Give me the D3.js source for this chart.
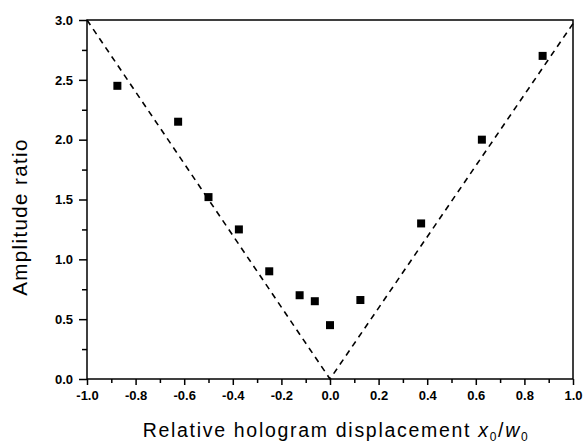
<!DOCTYPE html>
<html>
<head>
<meta charset="utf-8">
<script src="https://cdn.jsdelivr.net/npm/d3@7"></script>
<style>
  body { margin: 0; background: #fff; }
  svg text { font-family: "Liberation Sans", Arial, sans-serif; }
</style>
</head>
<body>
<div id="chart"></div>
<script>
// measured points
const displacement = [-0.875, -0.625, -0.5, -0.375, -0.25, -0.125, -0.0625, 0, 0.125, 0.375, 0.625, 0.875];
const amplitude = [2.45, 2.15, 1.52, 1.25, 0.90, 0.70, 0.65, 0.45, 0.66, 1.30, 2.00, 2.70];

// theory (dashed V)
const theoryX = [-1, 0, 1];
const theoryY = [3, 0, 2.97];

const xTicks = [-1.0, -0.8, -0.6, -0.4, -0.2, 0.0, 0.2, 0.4, 0.6, 0.8, 1.0];
const yTicks = [0.0, 0.5, 1.0, 1.5, 2.0, 2.5, 3.0];

const width = 584, height = 443;
const margin = { top: 20, left: 87, bottom: 64, right: 11 };
const innerW = width - margin.left - margin.right,
      innerH = height - margin.top - margin.bottom;

// plain hyphen instead of d3's unicode minus
const fmt = d => d.toFixed(1);

const svg = d3.select("#chart").append("svg")
  .attr("width", width)
  .attr("height", height);

const g = svg.append("g")
  .attr("transform", `translate(${margin.left}, ${margin.top})`);

const xScale = d3.scaleLinear().domain([-1, 1]).range([0, innerW]);
const yScale = d3.scaleLinear().domain([0, 3]).range([innerH, 0]);

// minor ticks
const xMinor = d3.range(-0.9, 1.0, 0.2);
const yMinor = d3.range(0.25, 3.0, 0.5);

g.append("g")
  .attr("transform", `translate(0, ${innerH})`)
  .call(d3.axisBottom(xScale).tickValues(xMinor).tickSize(4).tickFormat(""))
  .call(a => a.select(".domain").remove())
  .selectAll("line").attr("stroke-width", 1.5);

g.append("g")
  .call(d3.axisLeft(yScale).tickValues(yMinor).tickSize(5).tickFormat(""))
  .call(a => a.select(".domain").remove())
  .selectAll("line").attr("stroke-width", 1.5);

const xAxis = g.append("g")
  .attr("transform", `translate(0, ${innerH})`)
  .call(d3.axisBottom(xScale).tickValues(xTicks).tickSize(6).tickPadding(6).tickFormat(fmt));
xAxis.select(".domain").remove();
xAxis.selectAll("line").attr("stroke-width", 1.5);
xAxis.selectAll("text")
  .style("font-size", "13px")
  .style("font-weight", "bold")
  .attr("fill", "#000");

const yAxis = g.append("g")
  .call(d3.axisLeft(yScale).tickValues(yTicks).tickSize(8).tickPadding(6).tickFormat(fmt));
yAxis.select(".domain").remove();
yAxis.selectAll("line").attr("stroke-width", 1.5);
yAxis.selectAll("text")
  .style("font-size", "13px")
  .style("font-weight", "bold")
  .attr("fill", "#000");

// frame
g.append("rect")
  .attr("width", innerW)
  .attr("height", innerH)
  .attr("fill", "none")
  .attr("stroke", "#000")
  .attr("stroke-width", 1.5);

// dashed theory line
g.append("path")
  .datum(theoryX.map((x, i) => [x, theoryY[i]]))
  .attr("fill", "none")
  .attr("stroke", "#000")
  .attr("stroke-width", 1.6)
  .attr("stroke-dasharray", "6,5")
  .attr("d", d3.line()
    .x(d => xScale(d[0]))
    .y(d => yScale(d[1]))
  );

// square markers
const s = 8;
g.append("g")
  .selectAll("rect")
  .data(displacement.map((x, i) => [x, amplitude[i]]))
  .enter()
  .append("rect")
  .attr("x", d => xScale(d[0]) - s / 2)
  .attr("y", d => yScale(d[1]) - s / 2)
  .attr("width", s)
  .attr("height", s)
  .attr("fill", "#000");

// axis titles
const xTitle = svg.append("text")
  .attr("x", 336)
  .attr("y", 437)
  .attr("text-anchor", "middle")
  .style("font-size", "19.5px")
  .style("letter-spacing", "1.7px");
xTitle.append("tspan").text("Relative hologram displacement ");
xTitle.append("tspan").style("font-style", "italic").text("x");
xTitle.append("tspan").attr("dy", 4).style("font-size", "12px").text("0");
xTitle.append("tspan").attr("dy", -4).text("/");
xTitle.append("tspan").style("font-style", "italic").text("w");
xTitle.append("tspan").attr("dy", 4).style("font-size", "12px").text("0");

svg.append("text")
  .attr("transform", `translate(27, 217) rotate(-90)`)
  .attr("text-anchor", "middle")
  .style("font-size", "20.5px")
  .style("letter-spacing", "1.4px")
  .text("Amplitude ratio");
</script>
</body>
</html>
